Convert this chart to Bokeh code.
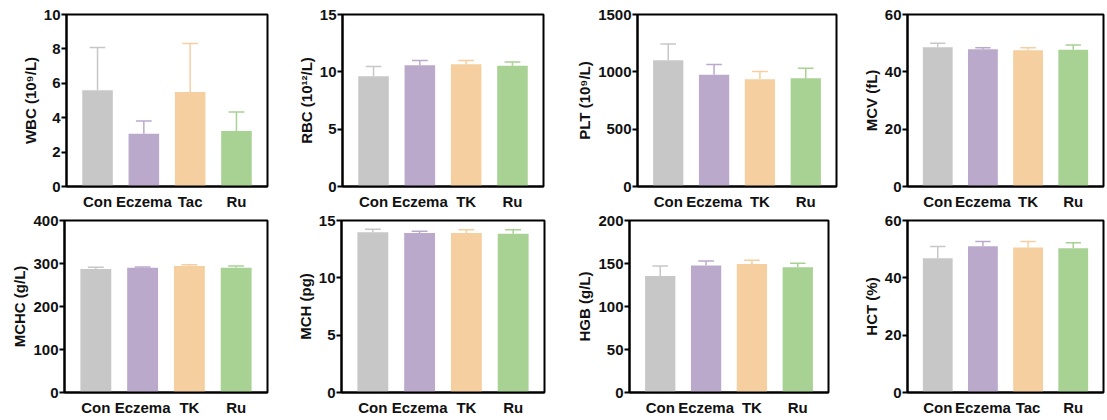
from bokeh.plotting import figure
from bokeh.layouts import column, row
from bokeh.models import Range1d, FixedTicker
from bokeh.embed import file_html
from bokeh.resources import INLINE

# ---------------- data ----------------
groups_a = ["Con", "Eczema", "Tac", "Ru"]
groups_b = ["Con", "Eczema", "TK", "Ru"]
bar_colors = ["#c7c7c7", "#bba9cc", "#f5cf9f", "#a8d194"]

wbc_mean = [5.6, 3.07, 5.5, 3.22]
wbc_err = [2.48, 0.74, 2.81, 1.11]
rbc_mean = [9.62, 10.58, 10.67, 10.53]
rbc_err = [0.85, 0.41, 0.32, 0.32]
plt_mean = [1102, 974, 936, 944]
plt_err = [141, 90, 67, 88]
mcv_mean = [48.6, 47.9, 47.5, 47.7]
mcv_err = [1.4, 0.5, 0.9, 1.7]
mchc_mean = [287, 290, 294, 290]
mchc_err = [4, 2, 3, 4]
mch_mean = [13.98, 13.9, 13.92, 13.84]
mch_err = [0.26, 0.17, 0.27, 0.35]
hgb_mean = [135.5, 147.6, 149.5, 145.6]
hgb_err = [11.5, 5.4, 4.3, 4.7]
hct_mean = [46.8, 51.0, 50.6, 50.3]
hct_err = [4.1, 1.7, 2.1, 1.9]

panels = [
    ("WBC (10\u2079/L)", groups_a, wbc_mean, wbc_err, 10, [0, 2, 4, 6, 8, 10]),
    ("RBC (10\u00b9\u00b2/L)", groups_b, rbc_mean, rbc_err, 15, [0, 5, 10, 15]),
    ("PLT (10\u2079/L)", groups_b, plt_mean, plt_err, 1500, [0, 500, 1000, 1500]),
    ("MCV (fL)", groups_b, mcv_mean, mcv_err, 60, [0, 20, 40, 60]),
    ("MCHC (g/L)", groups_b, mchc_mean, mchc_err, 400, [0, 100, 200, 300, 400]),
    ("MCH (pg)", groups_b, mch_mean, mch_err, 15, [0, 5, 10, 15]),
    ("HGB (g/L)", groups_b, hgb_mean, hgb_err, 200, [0, 50, 100, 150, 200]),
    ("HCT (%)", groups_a, hct_mean, hct_err, 60, [0, 20, 40, 60]),
]

# layout (left border, frame width, right border)
row1_geom = [(66, 201, 27), (45, 204, 30), (62, 201, 23), (45, 199, 2)]
row2_geom = [(64, 203, 24), (50, 203, 29), (54, 201, 31), (44, 200, 2)]

FONT = "Liberation Sans"


def make_panel(spec, geom, top, bottom, frame_h):
    label, cats, means, errs, ymax, ticks = spec
    left, fw, right = geom
    p = figure(width=left + fw + right, height=top + frame_h + bottom,
               output_backend="svg", toolbar_location=None, tools="",
               x_range=Range1d(0.33, 4.67), y_range=Range1d(0, ymax),
               min_border_left=left, min_border_right=right,
               min_border_top=top, min_border_bottom=bottom)
    xs = list(range(1, len(cats) + 1))
    tops = [m + e for m, e in zip(means, errs)]
    # error bars (upper only)
    p.segment(x0=xs, y0=means, x1=xs, y1=tops, line_color=bar_colors, line_width=1.5)
    p.segment(x0=[x - 0.17 for x in xs], y0=tops, x1=[x + 0.17 for x in xs], y1=tops,
              line_color=bar_colors, line_width=1.5)
    p.vbar(x=xs, top=means, width=0.66, bottom=0, fill_color=bar_colors, line_color=None)

    p.grid.visible = False
    p.outline_line_color = "black"
    p.outline_line_width = 2
    p.background_fill_color = "white"
    p.border_fill_color = "white"

    p.xaxis.ticker = FixedTicker(ticks=xs)
    p.xaxis.major_label_overrides = {x: c for x, c in zip(xs, cats)}
    p.xaxis.major_tick_line_color = None
    p.xaxis.major_tick_out = 0
    p.xaxis.major_tick_in = 0
    p.xaxis.minor_tick_line_color = None
    p.xaxis.minor_tick_out = 0
    p.xaxis.axis_line_width = 2
    p.xaxis.major_label_standoff = 6
    p.xaxis.major_label_text_font = FONT
    p.xaxis.major_label_text_font_style = "bold"
    p.xaxis.major_label_text_font_size = "15px"
    p.xaxis.major_label_text_color = "#111111"

    p.yaxis.ticker = FixedTicker(ticks=ticks)
    p.yaxis.minor_tick_line_color = None
    p.yaxis.minor_tick_out = 0
    p.yaxis.major_tick_in = 0
    p.yaxis.major_tick_out = 5
    p.yaxis.major_tick_line_width = 2
    p.yaxis.axis_line_width = 2
    p.yaxis.major_label_standoff = 1
    p.yaxis.major_label_text_font = FONT
    p.yaxis.major_label_text_font_style = "bold"
    p.yaxis.major_label_text_font_size = "15px"
    p.yaxis.major_label_text_color = "#111111"
    p.yaxis.axis_label = label
    p.yaxis.axis_label_text_font = FONT
    p.yaxis.axis_label_text_font_style = "bold"
    p.yaxis.axis_label_text_font_size = "15px"
    p.yaxis.axis_label_text_color = "#111111"
    p.yaxis.axis_label_standoff = 2
    return p


r1 = [make_panel(s, g, 14, 26, 172) for s, g in zip(panels[:4], row1_geom)]
r2 = [make_panel(s, g, 8, 26, 172) for s, g in zip(panels[4:], row2_geom)]

layout = column(row(*r1), row(*r2))
open("out.html", "w").write(file_html(layout, INLINE))
